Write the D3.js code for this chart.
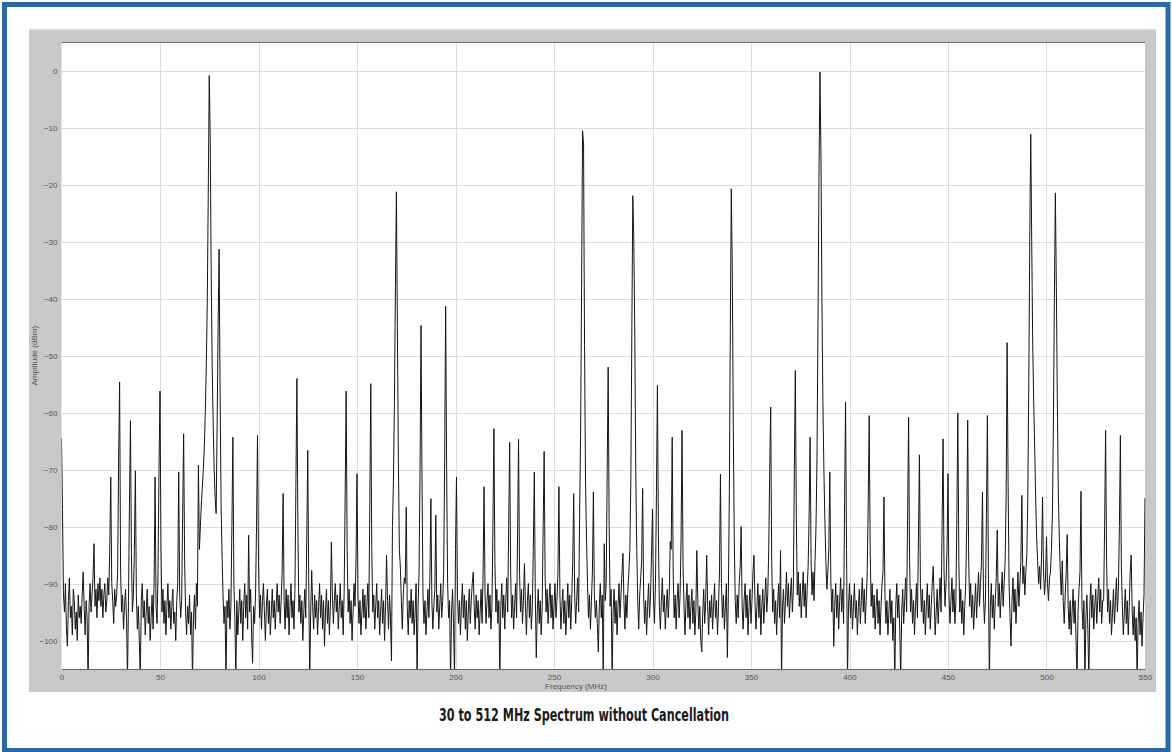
<!DOCTYPE html>
<html>
<head>
<meta charset="utf-8">
<script src="https://cdn.jsdelivr.net/npm/d3@7/dist/d3.min.js"></script>
<style>
  html, body { margin: 0; padding: 0; background: #ffffff; }
  svg { display: block; }
</style>
</head>
<body>
<svg id="chart" width="1172" height="752"></svg>
<script>
// ---------------- DATA ----------------
const chartTitle = "30 to 512 MHz Spectrum without Cancellation";
const xAxisTitle = "Frequency (MHz)";
const yAxisTitle = "Amplitude (dBm)";
const freqStartMHz = 0;
const freqStepMHz = 0.5;
const xTickValues = [0, 50, 100, 150, 200, 250, 300, 350, 400, 450, 500, 550];
const yTickValues = [0, -10, -20, -30, -40, -50, -60, -70, -80, -90, -100];
// amplitude (dBm) sampled every 0.5 MHz from 0 to 550 MHz, one row = 10 MHz
const amplitudeDbm = [
-64.5,-77,-92,-95,-90,-98,-101,-93,-89,-96,-94,-99,-91,-93,-98,-95,-100,-92,-96,-94,
-97,-92,-88,-94,-99,-93,-96,-107,-94,-90,-95,-92,-89,-83,-94,-91,-96,-90,-93,-89,
-94,-91,-96,-92,-90,-95,-93,-89,-92,-84,-71.3,-90,-93,-97,-91,-94,-92,-88,-68,-54.6,
-88,-95,-92,-98,-94,-91,-96,-107,-93,-76,-61.4,-85,-95,-92,-84,-70.2,-92,-98,-94,-100,
-107,-93,-90,-96,-93,-99,-95,-91,-97,-94,-100,-96,-92,-98,-90,-71.3,-94,-97,-88,-70,
-56.2,-84,-95,-91,-97,-93,-99,-94,-90,-96,-93,-98,-94,-91,-97,-95,-100,-93,-90,-70.4,
-92,-96,-93,-78,-63.7,-86,-95,-99,-94,-97,-92,-99,-95,-107,-96,-92,-98,-90,-94,-69.2,
-84,-80,-76,-73,-70,-66,-60,-52,-40.7,-21.5,-0.8,-12.2,-36,-52,-62,-70,-75,-77.7,-62,-45,
-31.3,-56,-76,-85,-92,-97,-94,-107,-93,-96,-91,-98,-94,-80,-64.3,-90,-96,-107,-93,-99,
-95,-91,-97,-93,-100,-94,-90,-96,-92,-98,-81.5,-95,-91,-99,-104,-94,-97,-92,-80,-64,
-86,-96,-92,-98,-93,-90,-95,-100,-94,-91,-97,-93,-99,-95,-91,-96,-93,-98,-94,-90,
-95,-92,-97,-93,-88,-74.2,-93,-98,-91,-96,-92,-99,-94,-90,-96,-93,-98,-91,-72,-54,
-80,-95,-92,-97,-93,-100,-95,-91,-96,-82,-66.6,-90,-107,-95,-87.7,-94,-98,-92,-96,-93,
-99,-94,-90,-96,-92,-98,-93,-101,-95,-91,-97,-93,-99,-94,-82.7,-92,-97,-93,-90,-95,
-92,-98,-94,-90,-96,-93,-99,-91,-74,-56.2,-84,-95,-91,-97,-93,-100,-95,-90,-94,-86,
-70.7,-92,-97,-93,-99,-95,-91,-96,-92,-98,-94,-90,-96,-76,-54.9,-84,-95,-92,-98,-94,
-90,-96,-93,-99,-95,-91,-97,-93,-100,-94,-85,-93,-98,-92,-96,-103.6,-80,-72,-58,-38,
-21.2,-45,-68,-84,-87,-93,-98,-92,-89,-90,-76.6,-94,-99,-93,-96,-91,-97,-93,-99,-95,
-90,-107,-94,-88,-70,-44.7,-72,-92,-97,-93,-99,-95,-91,-96,-89,-75.1,-93,-98,-94,-91,
-78,-95,-92,-98,-94,-90,-96,-93,-88,-68,-41.3,-70,-90,-96,-93,-107,-95,-91,-97,-107,
-84,-71.3,-92,-97,-93,-99,-94,-90,-96,-92,-98,-93,-100,-95,-91,-97,-93,-90,-88,-94,
-98,-92,-96,-93,-99,-95,-91,-97,-88,-73,-92,-97,-93,-90,-96,-92,-98,-94,-80,-62.8,
-86,-95,-91,-97,-93,-107,-94,-90,-96,-92,-98,-93,-89,-95,-80,-65.2,-88,-96,-92,-98,
-94,-90,-96,-82,-64.7,-88,-95,-91,-97,-93,-86.5,-94,-99,-93,-90,-96,-92,-98,-94,-84,
-70.4,-92,-103,-95,-91,-97,-93,-99,-94,-80,-66.8,-89,-95,-91,-97,-93,-90,-96,-92,-98,
-94,-90,-96,-93,-88,-73,-92,-98,-94,-91,-97,-93,-99,-95,-90,-96,-92,-98,-93,-86,
-74.2,-92,-97,-93,-89,-95,-78,-64,-38,-10.5,-12.8,-48,-72,-82,-90,-96,-92,-98,-93,-88,
-73.9,-92,-96,-93,-97,-102,-94,-90,-96,-92,-107,-83,-93,-90,-70,-52,-80,-94,-91,-107,
-95,-91,-97,-93,-99,-94,-90,-96,-92,-88,-84.7,-93,-98,-92,-96,-91,-88,-84,-72,-46,
-21.9,-29.5,-46,-70,-84,-93,-98,-92,-89,-86,-73.3,-92,-97,-93,-99,-94,-90,-96,-92,-85,
-76.9,-93,-97,-90,-74,-55.2,-82,-94,-98,-93,-89,-95,-92,-98,-94,-91,-96,-92,-82.6,-84,
-64.3,-88,-96,-92,-98,-93,-90,-96,-92,-82,-63.1,-87,-94,-99,-93,-90,-96,-92,-98,-94,
-91,-97,-93,-99,-95,-84.2,-93,-98,-94,-100,-102,-95,-91,-97,-93,-85,-94,-99,-93,-96,
-92,-98,-94,-90,-96,-93,-99,-94,-88,-70.8,-90,-96,-92,-98,-94,-90,-103,-92,-74,-45,
-20.7,-35,-62,-82,-93,-97,-92,-96,-90,-87,-80,-94,-98,-93,-90,-96,-92,-99,-94,-91,
-97,-93,-88,-85,-93,-98,-94,-90,-96,-92,-99,-94,-91,-97,-93,-89,-95,-92,-84,-70,
-59,-86,-95,-91,-97,-93,-99,-94,-90,-96,-84.2,-107,-94,-91,-97,-93,-88,-94,-90,-96,
-92,-89,-95,-91,-70,-52.6,-78,-92,-88,-94,-90,-96,-92,-88,-94,-90,-96,-91,-87,-78,
-64.3,-86,-92,-88,-93,-86,-80,-68,-45,-19,-0.2,-14,-40,-58,-70,-79,-86,-91,-88,-84,
-70.4,-89,-95,-91,-101,-94,-90,-96,-92,-98,-93,-89,-95,-91,-97,-76,-58.1,-84,-107,-94,
-90,-96,-92,-98,-94,-90,-96,-93,-99,-94,-91,-97,-93,-89,-95,-91,-97,-93,-88,-76,
-60.5,-84,-94,-90,-96,-92,-98,-94,-91,-97,-93,-99,-94,-90,-88,-74.8,-92,-97,-93,-99,
-95,-91,-97,-93,-100,-96,-107,-94,-90,-96,-92,-98,-107,-95,-91,-97,-93,-89,-95,-78,
-60.8,-86,-95,-91,-97,-93,-99,-94,-90,-96,-82,-67.4,-90,-95,-91,-97,-93,-99,-94,-90,
-96,-92,-98,-94,-90,-87,-93,-99,-95,-91,-97,-93,-89,-95,-80,-64.6,-88,-94,-90,-84,
-70.7,-92,-97,-93,-89,-95,-91,-97,-93,-78,-60.1,-86,-95,-91,-97,-93,-99,-94,-90,-80,
-61.3,-86,-94,-90,-96,-92,-98,-94,-90,-96,-92,-88,-94,-90,-86,-73.9,-92,-97,-93,-78,
-60.5,-88,-107,-94,-90,-96,-92,-98,-93,-89,-80.6,-94,-90,-96,-92,-88,-94,-90,-86,-75,
-47.7,-72,-90,-96,-101,-93,-89,-95,-91,-97,-93,-88,-94,-90,-86,-74.5,-90,-87,-92,-88,
-85,-75,-55,-30,-11.1,-30,-48,-58,-66,-75,-82,-86,-90,-87,-91,-85,-74.8,-88,-92,-89,
-81.8,-90,-93,-89,-88,-84,-78,-62,-40,-21.4,-38,-58,-74,-82,-88,-92,-86,-93,-97,-92,
-88,-81.4,-94,-98,-93,-99,-95,-91,-97,-93,-100,-107,-95,-91,-88,-73.8,-94,-98,-93,-107,
-96,-92,-98,-107,-94,-90,-96,-92,-98,-94,-91,-97,-93,-89,-95,-91,-97,-93,-93,-80,
-63.1,-86,-95,-91,-97,-93,-99,-95,-91,-97,-93,-89,-95,-91,-80,-64,-87,-94,-99,-95,
-91,-97,-93,-99,-94,-88,-85,-95,-99,-94,-100,-96,-107,-97,-93,-99,-95,-101,-96,-92,
-75
];

// ---------------- LAYOUT ----------------
const panel = { x0: 29, y0: 29, x1: 1156, y1: 692 };
const plot = { x0: 61.5, y0: 42.5, x1: 1145, y1: 669 };

const svg = d3.select("#chart");

// blue outer frame
svg.append("rect")
  .attr("x", 4.5).attr("y", 4.5)
  .attr("width", 1163.5).attr("height", 746)
  .attr("fill", "#ffffff")
  .attr("stroke", "#2d68a6")
  .attr("stroke-width", 5);

// gray panel
svg.append("rect")
  .attr("x", panel.x0).attr("y", panel.y0)
  .attr("width", panel.x1 - panel.x0).attr("height", panel.y1 - panel.y0)
  .attr("fill", "#c8c8c8");
svg.append("rect")
  .attr("x", panel.x0).attr("y", panel.y0)
  .attr("width", panel.x1 - panel.x0).attr("height", 1.5)
  .attr("fill", "#dadada");

// white plot area
svg.append("rect")
  .attr("x", plot.x0).attr("y", plot.y0)
  .attr("width", plot.x1 - plot.x0).attr("height", plot.y1 - plot.y0)
  .attr("fill", "#ffffff");

const x = d3.scaleLinear().domain([0, 550]).range([plot.x0, plot.x1]);
const y = d3.scaleLinear().domain([-105, 5]).range([plot.y1, plot.y0]);

// grid
const grid = svg.append("g");
grid.selectAll("line.vg").data(xTickValues.filter(v => v > 0 && v < 550)).join("line")
  .attr("x1", d => Math.round(x(d)) + 0.5).attr("x2", d => Math.round(x(d)) + 0.5)
  .attr("y1", plot.y0).attr("y2", plot.y1)
  .attr("stroke", "#dcdcdc").attr("stroke-width", 1);
grid.selectAll("line.hg").data(yTickValues).join("line")
  .attr("x1", plot.x0).attr("x2", plot.x1)
  .attr("y1", d => Math.round(y(d)) + 0.5).attr("y2", d => Math.round(y(d)) + 0.5)
  .attr("stroke", "#dcdcdc").attr("stroke-width", 1);

// clip
svg.append("defs").append("clipPath").attr("id", "plotclip")
  .append("rect")
  .attr("x", plot.x0).attr("y", plot.y0)
  .attr("width", plot.x1 - plot.x0 + 0.5).attr("height", plot.y1 - plot.y0);

// trace
const points = amplitudeDbm.map((a, i) => ({ f: freqStartMHz + i * freqStepMHz, a }));
const line = d3.line().x(d => x(d.f)).y(d => y(d.a));
svg.append("path")
  .datum(points)
  .attr("clip-path", "url(#plotclip)")
  .attr("d", line)
  .attr("fill", "none")
  .attr("stroke", "#161616")
  .attr("stroke-width", 1)
  .attr("stroke-linejoin", "miter");

// top border of plot
svg.append("line")
  .attr("x1", plot.x0).attr("x2", plot.x1)
  .attr("y1", plot.y0).attr("y2", plot.y0)
  .attr("stroke", "#707070").attr("stroke-width", 1.2);

// axes
const tickFont = "'Liberation Sans', Arial, sans-serif";
const xAxis = svg.append("g")
  .attr("transform", `translate(0,${plot.y1})`)
  .call(d3.axisBottom(x).tickValues(xTickValues).tickSize(0).tickPadding(5).tickFormat(d3.format("d")));
xAxis.select(".domain").attr("stroke", "#666666").attr("stroke-width", 1.2);
xAxis.selectAll("text")
  .attr("fill", "#555555").style("font-family", tickFont).style("font-size", "8px");

const yAxis = svg.append("g")
  .attr("transform", `translate(${plot.x0},0)`)
  .call(d3.axisLeft(y).tickValues(yTickValues).tickSize(0).tickPadding(4).tickFormat(d3.format("d")));
yAxis.select(".domain").remove();
yAxis.selectAll("text")
  .attr("fill", "#555555").style("font-family", tickFont).style("font-size", "8px");

// axis titles
svg.append("text")
  .attr("x", 576).attr("y", 688.5)
  .attr("text-anchor", "middle")
  .attr("fill", "#555555")
  .style("font-family", tickFont).style("font-size", "8px")
  .text(xAxisTitle);

svg.append("text")
  .attr("transform", `translate(36.5,${(plot.y0 + plot.y1) / 2}) rotate(-90)`)
  .attr("text-anchor", "middle")
  .attr("fill", "#555555")
  .style("font-family", tickFont).style("font-size", "8px")
  .text(yAxisTitle);

// chart title
svg.append("text")
  .attr("x", 584).attr("y", 721)
  .attr("text-anchor", "middle")
  .attr("fill", "#1a1a1a")
  .attr("textLength", 290)
  .attr("lengthAdjust", "spacingAndGlyphs")
  .style("font-family", "'Liberation Sans Narrow', 'DejaVu Sans Condensed', 'Liberation Sans', sans-serif")
  .style("font-weight", "bold")
  .style("font-size", "18px")
  .text(chartTitle);
</script>
</body>
</html>
